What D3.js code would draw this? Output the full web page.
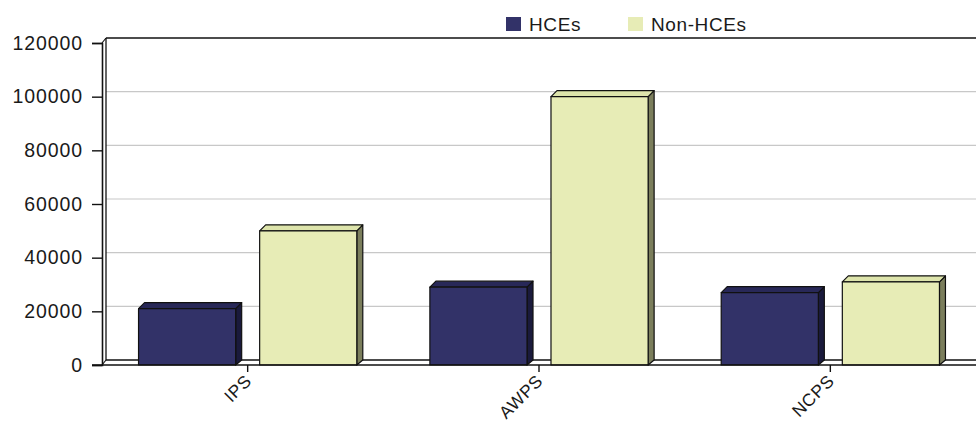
<!DOCTYPE html>
<html><head><meta charset="utf-8">
<script src="https://cdn.jsdelivr.net/npm/d3@7"></script>
<style>body{margin:0;background:#fff}svg{display:block}</style>
</head><body><svg id="c" width="976" height="430"></svg>
<script>
const categories = ["IPS", "AWPS", "NCPS"];
const seriesNames = ["HCEs", "Non-HCEs"];
const hceValues = [21000, 29000, 27000];
const nonHceValues = [50000, 100000, 31000];
const yTicks = [0, 20000, 40000, 60000, 80000, 100000, 120000];

const colors = {
  "HCEs": {front: "#323268", side: "#1a1a3c", top: "#282858"},
  "Non-HCEs": {front: "#e7ecb6", side: "#7b7e5c", top: "#dde4ab"}
};

const svg = d3.select("#c");
const W = 976;
const pLeft = 102, pRight = 976, pTop = 43, pBottom = 365;
const dx = 4, dy = 5;      // wall depth
const bd = 6;              // bar depth
const font = "Liberation Sans, Arial, sans-serif";

const y = d3.scaleLinear().domain([0, 120000]).range([pBottom, pTop]);
const x = d3.scaleBand().domain(categories).range([pLeft, pRight]).padding(0);
const xs = d3.scaleBand().domain(seriesNames).range([0, x.bandwidth()])
  .paddingInner(0.198).paddingOuter(0.3017);

// back wall gridlines
svg.append("g").selectAll("line").data(yTicks.filter(d => d > 0 && d < 120000)).join("line")
  .attr("x1", pLeft + dx).attr("x2", W).attr("y1", d => y(d) - dy).attr("y2", d => y(d) - dy)
  .attr("stroke", "#c8c8c8").attr("stroke-width", 1.2);

// wall frame
const frame = svg.append("g").attr("stroke", "#111").attr("fill", "none");
frame.append("line").attr("x1", pLeft + dx).attr("x2", W).attr("y1", y(120000) - dy).attr("y2", y(120000) - dy).attr("stroke-width", 1.6);
frame.append("line").attr("x1", pLeft + dx).attr("x2", pLeft + dx).attr("y1", y(120000) - dy).attr("y2", pBottom - dy).attr("stroke-width", 1.3);
frame.append("line").attr("x1", pLeft + dx).attr("x2", W).attr("y1", pBottom - dy).attr("y2", pBottom - dy).attr("stroke-width", 1.3);
frame.append("line").attr("x1", pLeft).attr("x2", pLeft + dx).attr("y1", y(120000)).attr("y2", y(120000) - dy).attr("stroke-width", 1.2);
frame.append("line").attr("x1", pLeft).attr("x2", pLeft + dx).attr("y1", pBottom).attr("y2", pBottom - dy).attr("stroke-width", 1.2);

// bars
const rows = categories.map((c, i) => ({cat: c, vals: [
  {s: "HCEs", v: hceValues[i]}, {s: "Non-HCEs", v: nonHceValues[i]}]}));
const gBars = svg.append("g");
rows.forEach(r => {
  r.vals.forEach(d => {
    const x0 = x(r.cat) + xs(d.s), w = xs.bandwidth(), yv = y(d.v), y0 = y(0);
    const c = colors[d.s];
    const g = gBars.append("g").attr("stroke", "#111").attr("stroke-width", 1.2).attr("stroke-linejoin", "round");
    g.append("path").attr("fill", c.side)
      .attr("d", `M${x0 + w},${yv}L${x0 + w + bd},${yv - bd}L${x0 + w + bd},${y0 - dy}L${x0 + w},${y0}Z`);
    g.append("path").attr("fill", c.top)
      .attr("d", `M${x0},${yv}L${x0 + bd},${yv - bd}L${x0 + w + bd},${yv - bd}L${x0 + w},${yv}Z`);
    g.append("rect").attr("x", x0).attr("y", yv).attr("width", w).attr("height", y0 - yv).attr("fill", c.front);
  });
});

// front axes
const yAxis = d3.axisLeft(y).tickValues(yTicks).tickSize(10).tickPadding(9).tickFormat(d3.format("d"));
const ga = svg.append("g").attr("transform", `translate(${pLeft},0)`).call(yAxis);
ga.select(".domain").attr("stroke", "#111").attr("stroke-width", 1.6);
ga.selectAll(".tick line").attr("stroke", "#111").attr("stroke-width", 1.4);
ga.selectAll("text").attr("font-family", font).attr("font-size", 19.5).attr("fill", "#1a1a1a")
  .attr("letter-spacing", "0.9px");

const xAxis = d3.axisBottom(x).tickSize(7).tickPadding(4).tickSizeOuter(0);
const gx = svg.append("g").attr("transform", `translate(0,${pBottom})`).call(xAxis);
gx.select(".domain").attr("stroke", "#111").attr("stroke-width", 1.6).attr("d", `M${pLeft - 10},0H${W}`);
gx.selectAll(".tick line").attr("stroke", "#111").attr("stroke-width", 1.4);
gx.selectAll("text").attr("font-family", font).attr("font-size", 17.5).attr("fill", "#1a1a1a")
  .attr("letter-spacing", "0.6px")
  .attr("text-anchor", "end").attr("dy", 0).attr("y", 0)
  .attr("transform", "translate(5,17) rotate(-45)");

// legend
const leg = svg.append("g");
const legX = [506, 628];
seriesNames.forEach((s, i) => {
  leg.append("rect").attr("x", legX[i]).attr("y", 17).attr("width", 15).attr("height", 14)
    .attr("fill", colors[s].front);
  leg.append("text").attr("x", legX[i] + 23).attr("y", 31).text(s)
    .attr("font-family", font).attr("font-size", 19).attr("fill", "#1a1a1a")
    .attr("letter-spacing", "0.6px");
});
</script></body></html>
